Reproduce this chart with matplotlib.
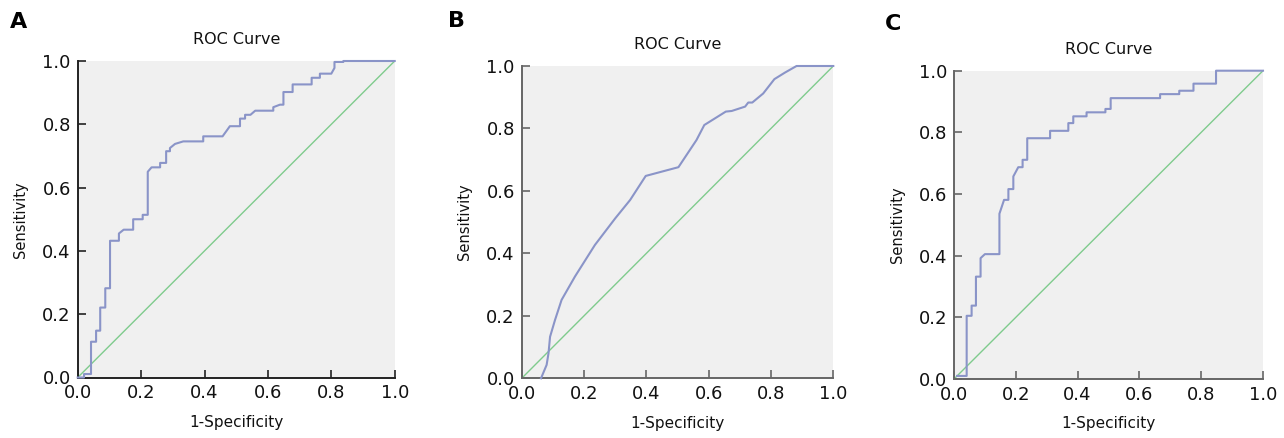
import matplotlib
matplotlib.use("Agg")
import matplotlib.pyplot as plt

plt.rcParams['font.family'] = ['DejaVu Sans']

# ---------------- data ----------------
panel_letters = ["A", "B", "C"]
titles = ["ROC Curve", "ROC Curve", "ROC Curve"]
xlabel = "1-Specificity"
ylabel = "Sensitivity"
tick_values = [0.0, 0.2, 0.4, 0.6, 0.8, 1.0]
tick_labels = ["0.0", "0.2", "0.4", "0.6", "0.8", "1.0"]

fpr_a = [0.000, 0.020, 0.020, 0.042, 0.042, 0.058, 0.058, 0.071, 0.071, 0.087,
         0.087, 0.102, 0.102, 0.130, 0.130, 0.145, 0.175, 0.175, 0.205, 0.205,
         0.221, 0.221, 0.233, 0.260, 0.260, 0.279, 0.279, 0.291, 0.291, 0.307,
         0.333, 0.396, 0.396, 0.457, 0.470, 0.480, 0.512, 0.512, 0.528, 0.528,
         0.545, 0.560, 0.617, 0.617, 0.638, 0.649, 0.649, 0.678, 0.678, 0.738,
         0.738, 0.764, 0.764, 0.800, 0.810, 0.810, 0.838, 0.838, 1.000]
tpr_a = [0.000, 0.000, 0.011, 0.011, 0.113, 0.113, 0.148, 0.148, 0.221, 0.221,
         0.282, 0.282, 0.432, 0.432, 0.455, 0.467, 0.467, 0.500, 0.500, 0.514,
         0.514, 0.650, 0.664, 0.664, 0.678, 0.678, 0.715, 0.715, 0.725, 0.738,
         0.746, 0.746, 0.762, 0.762, 0.780, 0.794, 0.794, 0.818, 0.818, 0.830,
         0.830, 0.843, 0.843, 0.854, 0.862, 0.862, 0.902, 0.902, 0.926, 0.926,
         0.947, 0.947, 0.960, 0.960, 0.978, 0.997, 0.997, 1.000, 1.000]

fpr_b = [0.062, 0.080, 0.086, 0.091, 0.107, 0.128, 0.171, 0.235, 0.300, 0.348,
         0.398, 0.503, 0.561, 0.586, 0.655, 0.674, 0.717, 0.727, 0.740, 0.775,
         0.811, 0.845, 0.882, 1.000]
tpr_b = [0.000, 0.043, 0.080, 0.133, 0.187, 0.251, 0.326, 0.427, 0.512, 0.571,
         0.648, 0.676, 0.763, 0.811, 0.854, 0.856, 0.870, 0.883, 0.883, 0.912,
         0.958, 0.979, 1.000, 1.000]

fpr_c = [0.010, 0.041, 0.041, 0.057, 0.057, 0.071, 0.071, 0.086, 0.086, 0.100,
         0.147, 0.147, 0.162, 0.176, 0.176, 0.192, 0.192, 0.208, 0.222, 0.222,
         0.237, 0.237, 0.311, 0.311, 0.370, 0.370, 0.386, 0.386, 0.429, 0.429,
         0.490, 0.490, 0.507, 0.507, 0.667, 0.667, 0.729, 0.729, 0.775, 0.775,
         0.848, 0.848, 1.000]
tpr_c = [0.010, 0.010, 0.205, 0.205, 0.238, 0.238, 0.332, 0.332, 0.392, 0.405,
         0.405, 0.536, 0.581, 0.581, 0.616, 0.616, 0.657, 0.687, 0.687, 0.711,
         0.711, 0.781, 0.781, 0.805, 0.805, 0.830, 0.830, 0.852, 0.852, 0.865,
         0.865, 0.876, 0.876, 0.911, 0.911, 0.924, 0.924, 0.935, 0.935, 0.958,
         0.958, 1.000, 1.000]

ref_line = [0.0, 1.0]

curves = [(fpr_a, tpr_a), (fpr_b, tpr_b), (fpr_c, tpr_c)]

# ---------------- layout / style ----------------
W, H = 1284, 438
fig = plt.figure(figsize=(W / 100, H / 100), dpi=100)

# axes boxes in pixels: left, top, width, height
boxes = [(77.7, 61.0, 317.0, 316.5),
         (521.7, 66.0, 311.6, 312.3),
         (954.0, 70.7, 309.0, 308.3)]
letter_pos = [(10, 28), (448, 27), (885, 30)]
spine_colors = ["#222222", "#666666", "#666666"]

roc_color = "#8a94c8"
diag_color = "#7fcb8d"
bg_color = "#f0f0f0"

for i, (box, (fx, ty)) in enumerate(zip(boxes, curves)):
    l, t, w, h = box
    ax = fig.add_axes([l / W, 1 - (t + h) / H, w / W, h / H])
    ax.set_facecolor(bg_color)
    ax.plot(ref_line, ref_line, color=diag_color, lw=1.0, zorder=2)
    ax.plot(fx, ty, color=roc_color, lw=1.5, zorder=3, clip_on=False)
    ax.set_xlim(0, 1)
    ax.set_ylim(0, 1)
    ax.set_xticks(tick_values)
    ax.set_xticklabels(tick_labels)
    ax.set_yticks(tick_values)
    ax.set_yticklabels(tick_labels)
    for s in ["top", "right"]:
        ax.spines[s].set_visible(False)
    for s in ["left", "bottom"]:
        ax.spines[s].set_color(spine_colors[i])
        ax.spines[s].set_linewidth(1.4)
    ax.tick_params(direction="in", length=5.5, width=1.2, colors=spine_colors[i],
                   labelcolor="#111111", labelsize=13, pad=5)
    ax.set_title(titles[i], fontsize=11.5, pad=12, color="#111111")
    ax.set_xlabel(xlabel, fontsize=11, labelpad=9, color="#111111")
    ax.set_ylabel(ylabel, fontsize=10.5, labelpad=10, color="#111111")
    fig.text(letter_pos[i][0] / W, 1 - letter_pos[i][1] / H, panel_letters[i],
             fontsize=16, fontweight="bold", ha="left", va="baseline", color="#000000")

fig.savefig("out.png", dpi=100)
